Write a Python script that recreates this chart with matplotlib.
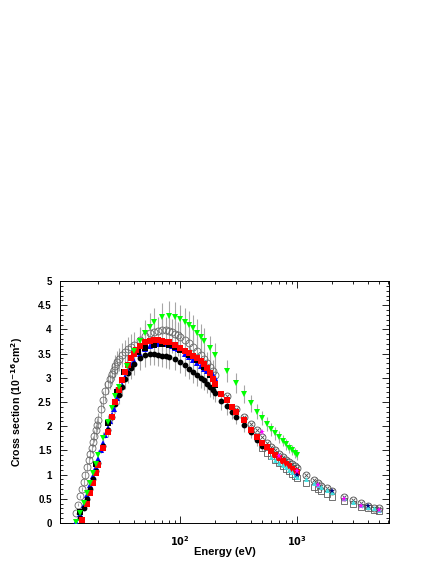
import numpy as np
import matplotlib
matplotlib.use("Agg")
import matplotlib.pyplot as plt
from matplotlib.ticker import FixedLocator, MultipleLocator, NullFormatter

plt.rcParams["font.family"] = ["Liberation Sans", "DejaVu Sans"]
plt.rcParams["font.weight"] = "bold"
plt.rcParams["mathtext.default"] = "bf"

# --- open circles (low energy set) ---
oc_e = [13, 13.5, 14, 14.5, 15, 15.5, 16, 16.5, 17, 17.5, 18, 18.5, 19, 19.5, 20,
        21, 22, 23, 24, 25, 26, 27, 28, 29, 30, 32, 34, 36, 38, 40, 45, 50, 55,
        60, 65, 70, 75, 80, 85, 90, 95, 100, 110, 120, 130, 140, 150, 160, 170,
        180, 190, 200]
oc_v = [0.2, 0.38, 0.55, 0.7, 0.85, 1.0, 1.15, 1.3, 1.42, 1.55, 1.68, 1.8, 1.92,
        2.02, 2.12, 2.35, 2.55, 2.72, 2.87, 2.98, 3.08, 3.17, 3.25, 3.32, 3.38,
        3.47, 3.54, 3.6, 3.64, 3.68, 3.78, 3.86, 3.92, 3.95, 3.97, 3.98, 3.98,
        3.96, 3.94, 3.91, 3.88, 3.85, 3.78, 3.71, 3.63, 3.55, 3.47, 3.38, 3.30,
        3.22, 3.14, 3.06]

# --- blue up triangles ---
bl_e = [13, 14, 15, 16, 17, 18, 19, 20, 21, 22, 23, 24, 25, 26, 27, 28, 29, 30,
        32, 34, 36, 38, 40, 45, 50, 55, 60, 65, 70, 75, 80, 85, 90, 95, 100,
        110, 120, 130, 140, 150, 160, 170, 180, 190, 200]
bl_v = [0.03, 0.18, 0.38, 0.58, 0.78, 0.97, 1.15, 1.32, 1.5, 1.66, 1.82, 1.97,
        2.1, 2.24, 2.36, 2.47, 2.58, 2.68, 2.86, 3.02, 3.15, 3.26, 3.35, 3.5,
        3.6, 3.66, 3.69, 3.7, 3.7, 3.69, 3.67, 3.65, 3.62, 3.6, 3.57, 3.5, 3.44,
        3.37, 3.31, 3.25, 3.19, 3.14, 3.09, 3.05, 3.0]

# --- black filled circles ---
bc_e = [14, 15, 16, 17, 18, 19, 20, 22, 24, 26, 28, 30, 32, 34, 36, 38, 40, 45,
        50, 55, 60, 65, 70, 75, 80, 90, 100, 110, 120, 130, 140, 150, 160, 170,
        180, 190, 200, 225, 250, 275, 300, 350, 400, 450, 500]
bc_v = [0.1, 0.3, 0.5, 0.7, 0.9, 1.08, 1.25, 1.6, 1.92, 2.2, 2.45, 2.65, 2.82,
        2.97, 3.1, 3.2, 3.28, 3.4, 3.47, 3.5, 3.5, 3.48, 3.46, 3.45, 3.43, 3.39,
        3.33, 3.27, 3.19, 3.11, 3.05, 3.0, 2.95, 2.88, 2.8, 2.75, 2.69, 2.52,
        2.41, 2.3, 2.2, 2.02, 1.89, 1.72, 1.6]

# --- black filled squares ---
bs_e = [14, 19, 24, 29, 33, 38, 44, 50, 60, 70, 80, 90, 100, 120, 140, 160, 180, 200]
bs_v = [0.22, 1.22, 2.07, 2.7, 3.13, 3.40, 3.54, 3.62, 3.68, 3.69, 3.67, 3.63,
        3.58, 3.47, 3.36, 3.22, 3.05, 2.85]

# --- red squares ---
rs_e = [14.5, 16, 17, 18, 19, 20, 22, 24, 26, 28, 30, 32, 34, 36, 38, 40, 42,
        45, 50, 55, 60, 65, 70, 75, 80, 90, 100, 110, 120, 130, 140, 150, 160,
        170, 180, 190, 200, 225, 250, 275, 300, 350, 400, 450, 500, 550, 600,
        650, 700, 750, 800, 850, 900, 950, 1000]
rs_v = [0.06, 0.4, 0.62, 0.83, 1.03, 1.2, 1.55, 1.88, 2.18, 2.5, 2.75, 2.95,
        3.12, 3.27, 3.4, 3.5, 3.58, 3.66, 3.74, 3.77, 3.78, 3.78, 3.77, 3.75,
        3.73, 3.67, 3.61, 3.56, 3.51, 3.46, 3.40, 3.35, 3.28, 3.2, 3.09, 2.98,
        2.88, 2.67, 2.54, 2.4, 2.3, 2.12, 1.92, 1.78, 1.66, 1.58, 1.48, 1.41,
        1.34, 1.28, 1.22, 1.17, 1.12, 1.08, 1.05]

# --- green down triangles ---
gt_e = [13, 14, 15, 16, 17, 18, 19, 20, 22, 24, 26, 28, 30, 35, 40, 45, 50, 55,
        60, 70, 80, 90, 100, 110, 120, 130, 140, 150, 160, 180, 200, 250, 300,
        350, 400, 450, 500, 550, 600, 650, 700, 750, 800, 850, 900, 950, 1000]
gt_v = [0.02, 0.2, 0.42, 0.63, 0.83, 1.03, 1.22, 1.4, 1.75, 2.08, 2.37, 2.62,
        2.82, 3.25, 3.55, 3.77, 3.92, 4.05, 4.15, 4.25, 4.28, 4.26, 4.21, 4.16,
        4.09, 4.02, 3.93, 3.85, 3.76, 3.61, 3.47, 3.14, 2.89, 2.67, 2.47, 2.30,
        2.17, 2.05, 1.94, 1.85, 1.78, 1.70, 1.63, 1.55, 1.50, 1.45, 1.40]

# --- high energy sets ---
ox_e = [250, 300, 350, 400, 450, 500, 550, 600, 650, 700, 750, 800, 850, 900,
        950, 1000, 1200, 1400, 1500, 1600, 1800, 2000, 2500, 3000, 3500, 4000,
        4500, 5000]
ox_v = [2.63, 2.35, 2.20, 2.05, 1.93, 1.78, 1.66, 1.57, 1.50, 1.43, 1.36, 1.31,
        1.26, 1.21, 1.17, 1.13, 0.99, 0.88, 0.82, 0.77, 0.72, 0.66, 0.54, 0.47,
        0.41, 0.36, 0.32, 0.30]

os_e = [500, 550, 600, 650, 700, 750, 800, 850, 900, 950, 1000, 1200, 1400,
        1500, 1600, 1800, 2000, 2500, 3000, 3500, 4000, 4500, 5000]
os_v = [1.55, 1.45, 1.38, 1.30, 1.23, 1.17, 1.12, 1.07, 1.02, 0.97, 0.93, 0.82,
        0.75, 0.71, 0.66, 0.60, 0.54, 0.45, 0.40, 0.34, 0.30, 0.27, 0.24]

cy_e = [600, 650, 700, 750, 800, 850, 900, 950, 1000, 1200, 1400, 1500, 1600,
        1800, 2000, 2500, 3000, 3500, 4000, 4500, 5000]
cy_v = [1.36, 1.30, 1.25, 1.20, 1.15, 1.10, 1.05, 1.00, 0.96, 0.90, 0.82, 0.78,
        0.74, 0.69, 0.64, 0.51, 0.44, 0.38, 0.34, 0.30, 0.27]

mg_e = [500, 700, 1000, 1500, 2500, 3500, 5000]
mg_v = [1.89, 1.38, 1.08, 0.78, 0.49, 0.35, 0.27]

nv_e = [1000, 2000, 4000]
nv_v = [1.0, 0.66, 0.36]

REL_ERR_OC = 0.07
REL_ERR_GT = 0.07
REL_ERR_BC = 0.07
REL_ERR_BL = 0.04


def with_err(ax, e, v, rel):
    v = np.asarray(v)
    ax.errorbar(e, v, yerr=rel * v, fmt="none", ecolor="0.65",
                elinewidth=0.8, capsize=0, zorder=1)


fig = plt.figure(figsize=(4.36, 5.64), dpi=100)
ax = fig.add_axes([60 / 436, 41 / 564, 329 / 436, 242 / 564])

with_err(ax, oc_e, oc_v, REL_ERR_OC)
with_err(ax, gt_e, gt_v, REL_ERR_GT)
with_err(ax, bc_e, bc_v, REL_ERR_BC)
with_err(ax, bl_e, bl_v, REL_ERR_BL)

ax.plot(oc_e, oc_v, "o", ms=5, mfc="none", mec="0.4", mew=0.6, zorder=2)
ax.plot(bl_e, bl_v, "^", ms=4, color="#0000ff", mew=0, zorder=3)
ax.plot(bc_e, bc_v, "o", ms=4.2, color="black", mew=0, zorder=3)
ax.plot(bs_e, bs_v, "s", ms=4.5, color="black", mew=0, zorder=3)
ax.plot(rs_e, rs_v, "s", ms=4.2, color="#ff0000", mew=0, zorder=4)
ax.plot(gt_e, gt_v, "v", ms=4.5, color="#00ff00", mew=0, zorder=5)

ax.plot(os_e, os_v, "s", ms=5, mfc="none", mec="0.35", mew=0.6, zorder=3)
ax.plot(ox_e, ox_v, "o", ms=5, mfc="none", mec="0.3", mew=0.6, zorder=3)
ax.plot(ox_e, ox_v, "x", ms=2.5, color="0.3", mew=0.6, zorder=3)
ax.plot(cy_e, cy_v, "^", ms=3.5, color="#40e0e0", mew=0, zorder=4)
ax.plot(nv_e, nv_v, "*", ms=4, color="#000080", mew=0, zorder=5)
ax.plot(mg_e, mg_v, "*", ms=4.5, color="#ff00ff", mew=0, zorder=5)

ax.set_xscale("log")
ax.set_xlim(9.4, 6100)
ax.set_ylim(0, 5)
ax.yaxis.set_minor_locator(MultipleLocator(0.1))
ax.set_yticks(np.arange(0, 5.01, 0.5))
ax.set_yticklabels(["0", "0.5", "1", "1.5", "2", "2.5", "3", "3.5", "4", "4.5", "5"])
ax.xaxis.set_major_locator(FixedLocator([100, 1000]))
ax.set_xticklabels(["$10^{2}$", "$10^{3}$"])
ax.xaxis.set_minor_formatter(NullFormatter())
ax.tick_params(which="both", direction="in", top=True, right=True,
               labelsize=7, width=0.6)
ax.tick_params(axis="x", pad=8)
ax.tick_params(axis="y", pad=6)
ax.tick_params(which="major", length=5)
ax.tick_params(which="minor", length=2.5)
for sp in ax.spines.values():
    sp.set_linewidth(0.7)

fig.text(225 / 436, 1 - 552 / 564, "Energy (eV)", ha="center", va="center",
         fontsize=8, fontweight="bold")
fig.text(17 / 436, 1 - 402 / 564, "Cross section (10$^{-16}$cm$^{2}$)",
         rotation=90, ha="center", va="center", fontsize=7.6, fontweight="bold")

fig.savefig("out.png", dpi=100)
